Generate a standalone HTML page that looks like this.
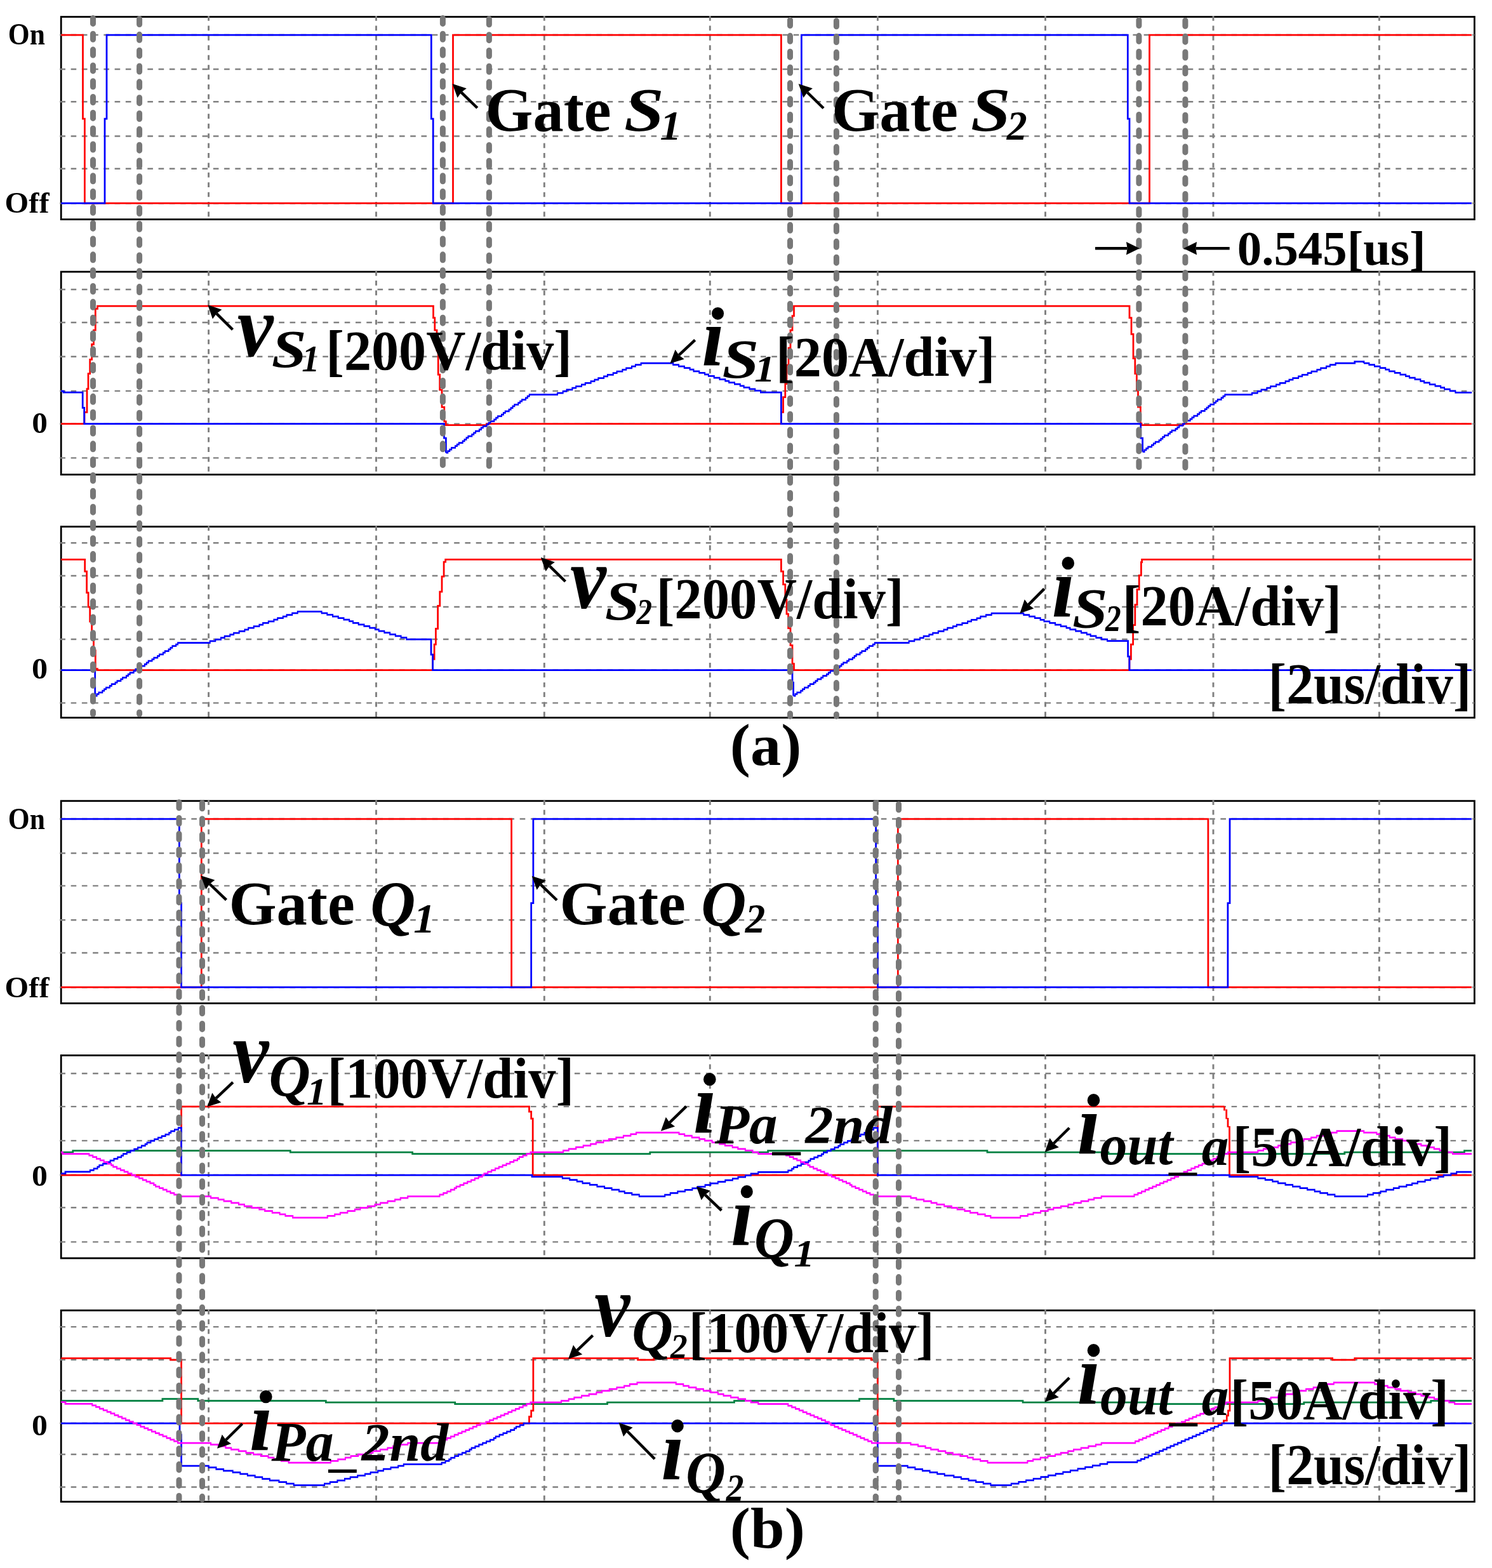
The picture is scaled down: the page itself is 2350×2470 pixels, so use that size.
<!DOCTYPE html>
<html lang="en">
<head>
<meta charset="utf-8">
<title>Simulated waveforms</title>
<style>
html,body{margin:0;padding:0;background:#fff;}
body{width:2350px;height:2470px;overflow:hidden;}
svg{display:block;}
text{font-family:"Liberation Serif","Times New Roman",serif;fill:#000;white-space:pre;}
.bd{font-weight:bold;font-style:normal;}
.bi{font-weight:bold;font-style:italic;}
.g{stroke:#808080;stroke-width:2.6;fill:none;}
.gh{stroke-dasharray:8.6 8.645;stroke-width:2.4;}
.gv{stroke-width:2.9;}
.b{stroke:#000;stroke-width:2.8;fill:none;}
.w{stroke-width:2.75;fill:none;stroke-linejoin:miter;stroke-linecap:butt;}
.t{stroke:#787878;stroke-width:9;stroke-linecap:round;stroke-dasharray:9 15.83;fill:none;}
</style>
</head>
<body>
<svg xmlns="http://www.w3.org/2000/svg" width="2350" height="2470" viewBox="0 0 2350 2470">
<rect width="2350" height="2470" fill="#fff"/>
<g id="borders">
<rect class="b" x="96.2" y="26.5" width="2226.2000000000003" height="319.1"/>
<rect class="b" x="96.2" y="428.1" width="2226.2000000000003" height="319.5"/>
<rect class="b" x="96.2" y="829.6" width="2226.2000000000003" height="300.9"/>
<rect class="b" x="96.2" y="1261.7" width="2226.2000000000003" height="318.79999999999995"/>
<rect class="b" x="96.2" y="1662.5" width="2226.2000000000003" height="319.5"/>
<rect class="b" x="96.2" y="2064.2" width="2226.2000000000003" height="301.4000000000001"/>
</g>
<g id="grid">
<line class="g gh" x1="94.4" y1="55" x2="2322.4" y2="55"/>
<line class="g gh" x1="94.4" y1="109" x2="2322.4" y2="109"/>
<line class="g gh" x1="94.4" y1="160.3" x2="2322.4" y2="160.3"/>
<line class="g gh" x1="94.4" y1="214.5" x2="2322.4" y2="214.5"/>
<line class="g gh" x1="94.4" y1="265.8" x2="2322.4" y2="265.8"/>
<line class="g gh" x1="94.4" y1="320.2" x2="2322.4" y2="320.2"/>
<line class="g gv" x1="328.6" y1="25.1" x2="328.6" y2="345.6" stroke-dasharray="7.7 7.72"/>
<line class="g gv" x1="592.5" y1="25.1" x2="592.5" y2="345.6" stroke-dasharray="7.7 7.72"/>
<line class="g gv" x1="857.3" y1="25.1" x2="857.3" y2="345.6" stroke-dasharray="7.7 7.72"/>
<line class="g gv" x1="1118.3" y1="25.1" x2="1118.3" y2="345.6" stroke-dasharray="7.7 7.72"/>
<line class="g gv" x1="1382.4" y1="25.1" x2="1382.4" y2="345.6" stroke-dasharray="7.7 7.72"/>
<line class="g gv" x1="1646.5" y1="25.1" x2="1646.5" y2="345.6" stroke-dasharray="7.7 7.72"/>
<line class="g gv" x1="1911.0" y1="25.1" x2="1911.0" y2="345.6" stroke-dasharray="7.7 7.72"/>
<line class="g gv" x1="2172.4" y1="25.1" x2="2172.4" y2="345.6" stroke-dasharray="7.7 7.72"/>
<line class="g gh" x1="94.4" y1="456" x2="2322.4" y2="456"/>
<line class="g gh" x1="94.4" y1="508" x2="2322.4" y2="508"/>
<line class="g gh" x1="94.4" y1="561.7" x2="2322.4" y2="561.7"/>
<line class="g gh" x1="94.4" y1="615.9" x2="2322.4" y2="615.9"/>
<line class="g gh" x1="94.4" y1="667.6" x2="2322.4" y2="667.6"/>
<line class="g gh" x1="94.4" y1="721.4" x2="2322.4" y2="721.4"/>
<line class="g gv" x1="328.6" y1="426.70000000000005" x2="328.6" y2="747.6" stroke-dasharray="7.7 7.72"/>
<line class="g gv" x1="592.5" y1="426.70000000000005" x2="592.5" y2="747.6" stroke-dasharray="7.7 7.72"/>
<line class="g gv" x1="857.3" y1="426.70000000000005" x2="857.3" y2="747.6" stroke-dasharray="7.7 7.72"/>
<line class="g gv" x1="1118.3" y1="426.70000000000005" x2="1118.3" y2="747.6" stroke-dasharray="7.7 7.72"/>
<line class="g gv" x1="1382.4" y1="426.70000000000005" x2="1382.4" y2="747.6" stroke-dasharray="7.7 7.72"/>
<line class="g gv" x1="1646.5" y1="426.70000000000005" x2="1646.5" y2="747.6" stroke-dasharray="7.7 7.72"/>
<line class="g gv" x1="1911.0" y1="426.70000000000005" x2="1911.0" y2="747.6" stroke-dasharray="7.7 7.72"/>
<line class="g gv" x1="2172.4" y1="426.70000000000005" x2="2172.4" y2="747.6" stroke-dasharray="7.7 7.72"/>
<line class="g gh" x1="94.4" y1="855.2" x2="2322.4" y2="855.2"/>
<line class="g gh" x1="94.4" y1="907" x2="2322.4" y2="907"/>
<line class="g gh" x1="94.4" y1="956" x2="2322.4" y2="956"/>
<line class="g gh" x1="94.4" y1="1007" x2="2322.4" y2="1007"/>
<line class="g gh" x1="94.4" y1="1055.7" x2="2322.4" y2="1055.7"/>
<line class="g gh" x1="94.4" y1="1107.4" x2="2322.4" y2="1107.4"/>
<line class="g gv" x1="328.6" y1="828.2" x2="328.6" y2="1130.5" stroke-dasharray="7.7 7.72"/>
<line class="g gv" x1="592.5" y1="828.2" x2="592.5" y2="1130.5" stroke-dasharray="7.7 7.72"/>
<line class="g gv" x1="857.3" y1="828.2" x2="857.3" y2="1130.5" stroke-dasharray="7.7 7.72"/>
<line class="g gv" x1="1118.3" y1="828.2" x2="1118.3" y2="1130.5" stroke-dasharray="7.7 7.72"/>
<line class="g gv" x1="1382.4" y1="828.2" x2="1382.4" y2="1130.5" stroke-dasharray="7.7 7.72"/>
<line class="g gv" x1="1646.5" y1="828.2" x2="1646.5" y2="1130.5" stroke-dasharray="7.7 7.72"/>
<line class="g gv" x1="1911.0" y1="828.2" x2="1911.0" y2="1130.5" stroke-dasharray="7.7 7.72"/>
<line class="g gv" x1="2172.4" y1="828.2" x2="2172.4" y2="1130.5" stroke-dasharray="7.7 7.72"/>
<line class="g gh" x1="94.4" y1="1290.0" x2="2322.4" y2="1290.0"/>
<line class="g gh" x1="94.4" y1="1344" x2="2322.4" y2="1344"/>
<line class="g gh" x1="94.4" y1="1395.4" x2="2322.4" y2="1395.4"/>
<line class="g gh" x1="94.4" y1="1449.2" x2="2322.4" y2="1449.2"/>
<line class="g gh" x1="94.4" y1="1501" x2="2322.4" y2="1501"/>
<line class="g gh" x1="94.4" y1="1555.2" x2="2322.4" y2="1555.2"/>
<line class="g gv" x1="328.6" y1="1260.3" x2="328.6" y2="1580.5" stroke-dasharray="7.7 7.72"/>
<line class="g gv" x1="592.5" y1="1260.3" x2="592.5" y2="1580.5" stroke-dasharray="7.7 7.72"/>
<line class="g gv" x1="857.3" y1="1260.3" x2="857.3" y2="1580.5" stroke-dasharray="7.7 7.72"/>
<line class="g gv" x1="1118.3" y1="1260.3" x2="1118.3" y2="1580.5" stroke-dasharray="7.7 7.72"/>
<line class="g gv" x1="1382.4" y1="1260.3" x2="1382.4" y2="1580.5" stroke-dasharray="7.7 7.72"/>
<line class="g gv" x1="1646.5" y1="1260.3" x2="1646.5" y2="1580.5" stroke-dasharray="7.7 7.72"/>
<line class="g gv" x1="1911.0" y1="1260.3" x2="1911.0" y2="1580.5" stroke-dasharray="7.7 7.72"/>
<line class="g gv" x1="2172.4" y1="1260.3" x2="2172.4" y2="1580.5" stroke-dasharray="7.7 7.72"/>
<line class="g gh" x1="94.4" y1="1691" x2="2322.4" y2="1691"/>
<line class="g gh" x1="94.4" y1="1743.1" x2="2322.4" y2="1743.1"/>
<line class="g gh" x1="94.4" y1="1796.9" x2="2322.4" y2="1796.9"/>
<line class="g gh" x1="94.4" y1="1850.9" x2="2322.4" y2="1850.9"/>
<line class="g gh" x1="94.4" y1="1902.2" x2="2322.4" y2="1902.2"/>
<line class="g gh" x1="94.4" y1="1956.4" x2="2322.4" y2="1956.4"/>
<line class="g gv" x1="328.6" y1="1661.1" x2="328.6" y2="1982" stroke-dasharray="7.7 7.72"/>
<line class="g gv" x1="592.5" y1="1661.1" x2="592.5" y2="1982" stroke-dasharray="7.7 7.72"/>
<line class="g gv" x1="857.3" y1="1661.1" x2="857.3" y2="1982" stroke-dasharray="7.7 7.72"/>
<line class="g gv" x1="1118.3" y1="1661.1" x2="1118.3" y2="1982" stroke-dasharray="7.7 7.72"/>
<line class="g gv" x1="1382.4" y1="1661.1" x2="1382.4" y2="1982" stroke-dasharray="7.7 7.72"/>
<line class="g gv" x1="1646.5" y1="1661.1" x2="1646.5" y2="1982" stroke-dasharray="7.7 7.72"/>
<line class="g gv" x1="1911.0" y1="1661.1" x2="1911.0" y2="1982" stroke-dasharray="7.7 7.72"/>
<line class="g gv" x1="2172.4" y1="1661.1" x2="2172.4" y2="1982" stroke-dasharray="7.7 7.72"/>
<line class="g gh" x1="94.4" y1="2090.1" x2="2322.4" y2="2090.1"/>
<line class="g gh" x1="94.4" y1="2142" x2="2322.4" y2="2142"/>
<line class="g gh" x1="94.4" y1="2190.6" x2="2322.4" y2="2190.6"/>
<line class="g gh" x1="94.4" y1="2241.9" x2="2322.4" y2="2241.9"/>
<line class="g gh" x1="94.4" y1="2291" x2="2322.4" y2="2291"/>
<line class="g gh" x1="94.4" y1="2342.5" x2="2322.4" y2="2342.5"/>
<line class="g gv" x1="328.6" y1="2062.7999999999997" x2="328.6" y2="2365.6" stroke-dasharray="7.7 7.72"/>
<line class="g gv" x1="592.5" y1="2062.7999999999997" x2="592.5" y2="2365.6" stroke-dasharray="7.7 7.72"/>
<line class="g gv" x1="857.3" y1="2062.7999999999997" x2="857.3" y2="2365.6" stroke-dasharray="7.7 7.72"/>
<line class="g gv" x1="1118.3" y1="2062.7999999999997" x2="1118.3" y2="2365.6" stroke-dasharray="7.7 7.72"/>
<line class="g gv" x1="1382.4" y1="2062.7999999999997" x2="1382.4" y2="2365.6" stroke-dasharray="7.7 7.72"/>
<line class="g gv" x1="1646.5" y1="2062.7999999999997" x2="1646.5" y2="2365.6" stroke-dasharray="7.7 7.72"/>
<line class="g gv" x1="1911.0" y1="2062.7999999999997" x2="1911.0" y2="2365.6" stroke-dasharray="7.7 7.72"/>
<line class="g gv" x1="2172.4" y1="2062.7999999999997" x2="2172.4" y2="2365.6" stroke-dasharray="7.7 7.72"/>
</g>
<g id="waves">
<path class="w" stroke="#ff0000" d="M96.2 55.0H130.5V187.0H133.4V320.0H713.5V55.0H1230.4V320.0H1810.5V55.0H2318.0"/>
<path class="w" stroke="#0000ff" d="M96.2 320.0H165.0V187.0H168.0V55.0H679.3V187.0H682.2V320.0H1262.4V55.0H1776.3V187.0H1779.0V320.0H2318.0"/>
<path class="w" stroke="#ff0000" d="M96.2 667.7H133.0V649.4H137.0V612.7H139.0V588.7H141.7V566.3H144.6V542.3H147.5V520.0H150.3V486.3H153.5V482.2H682.5V500.7H684.8V520.0H688.0V552.0H690.2V590.0H692.7V614.0H696.0V641.4H699.8V663.8H702.3V669.6H766.3V667.7H1230.4V649.4H1233.6V625.5H1236.8V604.7H1239.0V575.0H1242.0V548.0H1245.0V520.0H1248.0V497.5H1250.5V482.2H1779.0V500.7H1782.0V526.3H1785.0V564.7H1787.8V588.7H1790.4V614.0H1792.5V641.0H1796.4V667.0H1798.0V669.6H1863.5V667.7H2318.0"/>
<path class="w" stroke="#0000ff" d="M96.2 616.0H100.0V618.0H130.2V642.4H132.7V667.7H699.5V690.0H702.4V713.2M702.4 713.2H706.3M704.3 710.6H709.3M707.2 708.0H712.2M710.1 705.3H718.0M716.0 702.7H720.9M718.9 700.1H723.9M721.8 697.5H729.7M727.7 694.9H732.6M730.6 692.3H735.5M733.5 689.6H738.5M736.4 687.0H744.3M742.3 684.4H747.2M745.2 681.8H750.1M748.1 679.2H756.0M753.9 676.6H758.9M756.8 673.9H761.8M759.8 671.3H767.7M765.6 668.7H770.6M768.5 666.1H773.5M771.4 663.5H779.3M777.3 660.9H782.3M780.2 658.2H785.2M783.1 655.6H791.0M789.0 653.0H793.9M791.9 650.4H796.8M794.8 647.8H802.7M800.6 645.2H805.6M803.6 642.5H808.5M806.5 639.9H811.4M809.4 637.3H817.3M815.2 634.7H820.2M818.2 632.1H823.1M821.1 629.5H829.0M826.9 626.8H831.9M829.8 624.2H834.8M832.8 621.6H836.7H875.0M875.0 621.6H879.0M876.9 619.0H887.7M885.7 616.4H893.6M891.5 613.8H902.4M900.3 611.2H908.2M906.2 608.5H917.0M915.0 605.9H922.9M920.8 603.3H931.7M929.6 600.7H937.5M935.5 598.1H943.4M941.3 595.5H952.1M950.1 592.9H958.0M955.9 590.3H966.8M964.7 587.7H972.6M970.6 585.1H981.4M979.4 582.4H987.3M985.2 579.8H996.1M994.0 577.2H1001.9M999.9 574.6H1010.7M1008.6 572.0H1012.6H1057.3M1057.3 572.0H1061.3M1059.2 574.6H1070.1M1068.0 577.1H1078.9M1076.8 579.7H1087.7M1085.6 582.2H1093.5M1091.5 584.8H1102.3M1100.3 587.3H1111.1M1109.1 589.9H1117.0M1114.9 592.4H1125.8M1123.7 595.0H1134.6M1132.5 597.6H1143.4M1141.3 600.1H1149.2M1147.2 602.7H1158.0M1156.0 605.2H1166.8M1164.8 607.8H1172.7M1170.6 610.3H1181.5M1179.4 612.9H1190.3M1188.2 615.4H1199.1M1197.0 618.0H1201.0H1230.4V667.7H1796.7V690.0H1799.6V711.5M1799.6 711.5H1803.5M1801.5 708.9H1806.4M1804.4 706.4H1809.3M1807.2 703.8H1815.0M1813.0 701.2H1817.9M1815.9 698.7H1820.8M1818.8 696.1H1826.6M1824.6 693.5H1829.5M1827.4 691.0H1832.3M1830.3 688.4H1835.2M1833.2 685.8H1841.0M1839.0 683.2H1843.9M1841.9 680.7H1846.8M1844.7 678.1H1852.5M1850.5 675.5H1855.4M1853.4 673.0H1858.3M1856.3 670.4H1864.1M1862.1 667.8H1867.0M1864.9 665.3H1869.8M1867.8 662.7H1875.6M1873.6 660.1H1878.5M1876.5 657.6H1881.4M1879.4 655.0H1887.2M1885.1 652.4H1890.0M1888.0 649.9H1892.9M1890.9 647.3H1898.7M1896.7 644.7H1901.6M1899.6 642.1H1904.5M1902.4 639.6H1907.3M1905.3 637.0H1913.1M1911.1 634.4H1916.0M1914.0 631.9H1918.9M1916.9 629.3H1924.7M1922.6 626.7H1927.5M1925.5 624.2H1930.4M1928.4 621.6H1932.3H1969.0M1969.0 621.6H1973.0M1970.9 619.0H1981.7M1979.7 616.4H1987.6M1985.5 613.8H1996.4M1994.3 611.2H2002.2M2000.2 608.5H2011.0M2009.0 605.9H2016.9M2014.8 603.3H2025.7M2023.6 600.7H2031.5M2029.5 598.1H2037.4M2035.3 595.5H2046.1M2044.1 592.9H2052.0M2049.9 590.3H2060.8M2058.7 587.7H2066.6M2064.6 585.1H2075.4M2073.4 582.4H2081.3M2079.2 579.8H2090.1M2088.0 577.2H2095.9M2093.9 574.6H2104.7M2102.6 572.0H2106.6H2133.8V569.5H2148.0V572.0M2148.0 572.0H2157.4M2155.4 574.5H2162.0M2162.0 574.5H2165.9M2163.9 577.1H2174.6M2172.6 579.7H2183.3M2181.3 582.2H2189.1M2187.1 584.8H2197.8M2195.8 587.4H2206.5M2204.5 590.0H2215.2M2213.1 592.6H2221.0M2218.9 595.2H2229.7M2227.6 597.7H2238.4M2236.3 600.3H2244.2M2242.1 602.9H2252.8M2250.8 605.5H2261.5M2259.5 608.1H2270.2M2268.2 610.7H2276.0M2274.0 613.2H2284.7M2282.7 615.8H2293.4M2291.4 618.4H2295.3H2318.0"/>
<path class="w" stroke="#ff0000" d="M96.2 881.4H133.7V900.0H136.6V933.5H139.1V956.0H141.7V979.0H144.6V1002.0H147.5V1024.7H150.3V1053.5H153.5V1055.7H681.6V1038.4H684.1V1015.0H686.4V990.4H689.6V954.3H692.8V932.0H696.0V908.0H699.1V885.0H701.7V881.4H1230.4V900.0H1233.6V920.7H1236.8V944.7H1239.0V967.0H1241.6V989.5H1245.0V1016.7H1248.0V1045.5H1250.5V1055.7H1778.9V1038.4H1781.4V1015.0H1784.6V984.7H1787.8V952.7H1791.0V928.7H1794.2V906.3H1797.4V885.5H1798.6V881.4H2318.0"/>
<path class="w" stroke="#0000ff" d="M96.2 1055.7H149.7V1096.0M149.7 1096.0H153.6M151.6 1093.4H156.5M154.5 1090.8H162.3M160.3 1088.2H165.2M163.2 1085.6H168.1M166.1 1083.0H173.9M171.9 1080.3H176.8M174.8 1077.7H182.6M180.6 1075.1H185.5M183.5 1072.5H191.3M189.3 1069.9H194.2M192.2 1067.3H200.0M197.9 1064.7H202.9M200.8 1062.1H205.8M203.7 1059.5H211.6M209.5 1056.9H214.5M212.4 1054.2H220.3M218.2 1051.6H223.2M221.1 1049.0H229.0M226.9 1046.4H231.9M229.8 1043.8H234.8M232.7 1041.2H240.5M238.5 1038.6H243.4M241.4 1036.0H249.2M247.2 1033.4H252.1M250.1 1030.8H257.9M255.9 1028.2H260.8M258.8 1025.5H266.6M264.6 1022.9H269.5M267.5 1020.3H272.4M270.4 1017.7H278.2M276.2 1015.1H281.1M279.1 1012.5H283.0H327.8M327.8 1012.5H331.7M329.7 1009.9H340.3M338.3 1007.3H349.0M346.9 1004.7H354.7M352.7 1002.1H363.3M361.3 999.6H369.1M367.1 997.0H377.7M375.7 994.4H386.4M384.4 991.8H392.1M390.1 989.2H400.8M398.7 986.6H409.4M407.4 984.0H415.1M413.1 981.4H423.8M421.8 978.8H432.4M430.4 976.2H438.2M436.2 973.7H446.8M444.8 971.1H452.6M450.5 968.5H461.2M459.2 965.9H469.8M467.8 963.3H471.7H503.7M503.7 963.3H507.6M505.6 965.9H516.3M514.3 968.4H525.1M523.0 971.0H533.8M531.7 973.6H542.5M540.5 976.2H551.2M549.2 978.7H557.0M555.0 981.3H565.7M563.7 983.9H574.5M572.4 986.4H583.2M581.2 989.0H591.9M589.9 991.6H597.7M595.7 994.1H606.4M604.4 996.7H615.2M613.1 999.3H623.9M621.8 1001.9H632.6M630.6 1004.4H641.3M639.3 1007.0H643.2H679.0V1031.0H681.6V1055.7H1248.0V1075.0H1249.6V1096.0M1249.6 1096.0H1253.5M1251.5 1093.4H1256.4M1254.4 1090.8H1262.3M1260.2 1088.2H1265.2M1263.1 1085.6H1268.1M1266.1 1083.0H1273.9M1271.9 1080.3H1276.8M1274.8 1077.7H1282.7M1280.6 1075.1H1285.6M1283.5 1072.5H1288.5M1286.5 1069.9H1294.3M1292.3 1067.3H1297.2M1295.2 1064.7H1303.1M1301.0 1062.1H1306.0M1303.9 1059.5H1308.9M1306.8 1056.9H1314.7M1312.7 1054.2H1317.6M1315.6 1051.6H1323.5M1321.4 1049.0H1326.4M1324.3 1046.4H1329.3M1327.2 1043.8H1335.1M1333.1 1041.2H1338.0M1336.0 1038.6H1343.8M1341.8 1036.0H1346.8M1344.7 1033.4H1349.7M1347.6 1030.8H1355.5M1353.5 1028.2H1358.4M1356.4 1025.5H1364.2M1362.2 1022.9H1367.2M1365.1 1020.3H1370.1M1368.0 1017.7H1375.9M1373.9 1015.1H1378.8M1376.8 1012.5H1380.7H1428.7M1428.7 1012.5H1432.6M1430.6 1009.9H1441.3M1439.3 1007.3H1450.0M1447.9 1004.8H1455.7M1453.7 1002.2H1464.4M1462.4 999.6H1470.2M1468.2 997.0H1478.9M1476.8 994.4H1487.5M1485.5 991.8H1493.3M1491.3 989.2H1502.0M1500.0 986.7H1507.8M1505.8 984.1H1516.5M1514.4 981.5H1525.1M1523.1 978.9H1530.9M1528.9 976.3H1539.6M1537.6 973.8H1545.4M1543.3 971.2H1554.0M1552.0 968.6H1562.7M1560.7 966.0H1564.6H1609.4M1609.4 966.0H1613.3M1611.3 968.6H1622.1M1620.1 971.1H1630.9M1628.9 973.7H1639.7M1637.6 976.3H1645.5M1643.5 978.8H1654.3M1652.3 981.4H1663.1M1661.0 984.0H1671.9M1669.8 986.5H1680.6M1678.6 989.1H1686.5M1684.4 991.6H1695.3M1693.2 994.2H1704.0M1702.0 996.8H1712.8M1710.8 999.3H1718.7M1716.6 1001.9H1727.4M1725.4 1004.5H1736.2M1734.2 1007.0H1745.0M1743.0 1009.6H1746.9H1776.6V1034.0H1778.9V1055.7H2318.0"/>
<path class="w" stroke="#ff0000" d="M96.2 1555.2H317.3V1290.0H805.6V1555.2H1414.3V1290.0H1902.9V1555.2H2318.0"/>
<path class="w" stroke="#0000ff" d="M96.2 1290.0H282.4V1422.6H285.6V1555.2H836.7V1422.6H839.9V1290.0H1379.6V1422.6H1382.5V1555.2H1933.9V1422.6H1937.0V1290.0H2318.0"/>
<path class="w" stroke="#008040" d="M96.2 1815.0H114.8V1812.5H457.3V1815.0H649.6V1817.6H1023.8V1815.0H1209.6V1812.5H1555.0V1815.0H1746.0V1817.6H2117.8V1815.0H2306.5V1812.5H2318.0"/>
<path class="w" stroke="#ff0000" d="M96.2 1851.1H285.6V1743.1H833.5V1751.0H836.7V1762.0H839.2V1851.1H1382.3V1743.1H1928.5M1928.5 1743.1V1749.5M1931.7 1747.6V1754.0M1931.7 1754.0V1762.7M1934.0 1760.9V1767.0M1934.0 1767.0V1775.7M1936.5 1773.9V1780.0V1851.1H2318.0"/>
<path class="w" stroke="#0000ff" d="M96.2 1848.5H103.0V1845.9H139.0M139.0 1845.9H142.9M140.9 1843.3H148.7M146.7 1840.8H154.5M152.5 1838.2H157.4M155.4 1835.6H163.2M161.1 1833.1H169.0M166.9 1830.5H174.7M172.7 1828.0H180.5M178.5 1825.4H186.3M184.3 1822.8H192.1M190.1 1820.3H195.0M193.0 1817.7H200.8M198.8 1815.1H206.6M204.5 1812.6H212.4M210.3 1810.0H218.2M216.1 1807.5H223.9M221.9 1804.9H229.7M227.7 1802.3H232.6M230.6 1799.8H238.4M236.4 1797.2H244.2M242.2 1794.6H250.0M248.0 1792.1H255.8M253.7 1789.5H261.6M259.5 1787.0H267.3M265.3 1784.4H270.2M268.2 1781.8H276.0M274.0 1779.3H281.8M279.8 1776.7H283.7H285.6V1851.1H838.0V1853.5H880.0M880.0 1853.5H886.8M884.8 1856.1H898.3M896.3 1858.7H909.8M907.8 1861.2H918.5M916.5 1863.8H930.0M928.0 1866.4H941.5M939.5 1869.0H953.1M951.1 1871.6H964.6M962.6 1874.2H976.1M974.1 1876.8H984.8M982.8 1879.3H996.3M994.3 1881.9H1007.8M1005.8 1884.5H1012.6H1041.4M1041.4 1884.5H1048.2M1046.2 1882.0H1056.8M1054.8 1879.4H1068.4M1066.3 1876.9H1079.9M1077.9 1874.3H1091.4M1089.4 1871.8H1100.1M1098.1 1869.3H1111.6M1109.6 1866.7H1120.3M1118.2 1864.2H1131.8M1129.8 1861.6H1143.3M1141.3 1859.1H1154.9M1152.9 1856.6H1163.5M1161.5 1854.0H1175.1M1173.0 1851.5H1183.7M1181.7 1848.9H1195.2M1193.2 1846.4H1200.0H1238.4M1238.4 1846.4H1242.4M1240.3 1843.8H1248.2M1246.2 1841.2H1251.1M1249.1 1838.7H1257.0M1254.9 1836.1H1262.9M1260.8 1833.5H1268.7M1266.7 1830.9H1274.6M1272.5 1828.3H1277.5M1275.5 1825.7H1283.4M1281.3 1823.2H1289.2M1287.2 1820.6H1295.1M1293.0 1818.0H1298.0M1296.0 1815.4H1303.9M1301.8 1812.8H1309.7M1307.7 1810.3H1315.6M1313.5 1807.7H1321.4M1319.4 1805.1H1324.4M1322.3 1802.5H1330.2M1328.2 1799.9H1336.1M1334.0 1797.4H1341.9M1339.9 1794.8H1344.9M1342.8 1792.2H1350.7M1348.7 1789.6H1356.6M1354.5 1787.0H1362.5M1360.4 1784.4H1368.3M1366.3 1781.9H1371.2M1369.2 1779.3H1377.1M1375.0 1776.7H1379.0H1382.3V1851.1H1936.5V1853.5H1975.5M1975.5 1853.5H1982.3M1980.3 1856.1H1993.8M1991.8 1858.7H2005.4M2003.3 1861.2H2014.0M2012.0 1863.8H2025.6M2023.5 1866.4H2037.1M2035.1 1869.0H2048.6M2046.6 1871.6H2060.2M2058.1 1874.2H2071.7M2069.7 1876.8H2080.4M2078.3 1879.3H2091.9M2089.9 1881.9H2103.4M2101.4 1884.5H2108.2H2148.2M2148.2 1884.5H2155.1M2153.0 1881.9H2163.8M2161.8 1879.4H2175.5M2173.5 1876.8H2184.3M2182.2 1874.2H2195.9M2193.9 1871.7H2204.7M2202.6 1869.1H2216.4M2214.3 1866.5H2225.1M2223.1 1864.0H2233.9M2231.8 1861.4H2245.6M2243.5 1858.8H2254.3M2252.3 1856.3H2266.0M2263.9 1853.7H2274.7M2272.7 1851.1H2286.4M2284.4 1848.6H2295.2M2293.1 1846.0H2300.0H2318.0"/>
<path class="w" stroke="#ff00ff" d="M96.2 1815.0H98.5V1817.6H137.5M137.5 1817.6H141.4M139.4 1820.2H147.2M145.2 1822.7H153.1M151.0 1825.3H158.9M156.9 1827.9H164.7M162.7 1830.5H170.5M168.5 1833.0H176.3M174.3 1835.6H179.3M177.2 1838.2H185.1M183.0 1840.8H190.9M188.9 1843.3H196.7M194.7 1845.9H202.5M200.5 1848.5H208.4M206.3 1851.0H214.2M212.1 1853.6H220.0M218.0 1856.2H225.8M223.8 1858.8H231.6M229.6 1861.3H237.5M235.4 1863.9H243.3M241.2 1866.5H246.2M244.2 1869.1H252.0M250.0 1871.6H257.8M255.8 1874.2H263.6M261.6 1876.8H269.5M267.4 1879.4H275.3M273.3 1881.9H281.1M279.1 1884.5H283.0H326.2M326.2 1884.5H333.1M331.0 1887.1H344.8M342.8 1889.7H353.6M351.6 1892.2H365.4M363.3 1894.8H377.1M375.0 1897.4H385.9M383.8 1900.0H397.6M395.6 1902.5H409.4M407.3 1905.1H418.2M416.1 1907.7H429.9M427.8 1910.3H441.6M439.6 1912.8H450.4M448.4 1915.4H462.2M460.1 1918.0H467.0H510.0M510.0 1918.0H516.8M514.7 1915.4H528.3M526.2 1912.8H536.9M534.9 1910.3H548.4M546.4 1907.7H559.9M557.9 1905.1H568.5M566.5 1902.5H580.0M578.0 1900.0H591.5M589.5 1897.4H600.1M598.1 1894.8H611.6M609.6 1892.2H623.1M621.1 1889.7H631.8M629.7 1887.1H643.3M641.2 1884.5H648.0H689.6M689.6 1884.5H693.5M691.5 1881.9H699.4M697.3 1879.4H705.2M703.2 1876.8H711.0M709.0 1874.2H716.9M714.8 1871.6H719.8M717.7 1869.1H725.6M723.6 1866.5H731.4M729.4 1863.9H737.3M735.2 1861.3H743.1M741.1 1858.8H748.9M746.9 1856.2H754.8M752.7 1853.6H760.6M758.6 1851.0H763.5M761.5 1848.5H769.3M767.3 1845.9H775.2M773.1 1843.3H781.0M779.0 1840.7H786.8M784.8 1838.2H792.7M790.6 1835.6H798.5M796.5 1833.0H804.3M802.3 1830.4H810.2M808.1 1827.9H816.0M814.0 1825.3H818.9M816.9 1822.7H824.7M822.7 1820.1H830.6M828.5 1817.6H836.4M834.4 1815.0H838.3H881.4M881.4 1815.0H888.2M886.1 1812.4H896.8M894.8 1809.8H908.3M906.2 1807.2H919.8M917.7 1804.7H931.2M929.2 1802.1H939.9M937.8 1799.5H951.4M949.3 1796.9H960.0M958.0 1794.3H971.5M969.4 1791.8H983.0M980.9 1789.2H994.4M992.4 1786.6H1003.1M1001.0 1784.0H1007.8H1063.7M1063.7 1784.0H1070.5M1068.5 1786.6H1079.2M1077.2 1789.2H1090.8M1088.8 1791.8H1102.4M1100.4 1794.3H1111.1M1109.1 1796.9H1122.7M1120.7 1799.5H1134.3M1132.3 1802.1H1143.0M1141.0 1804.7H1154.6M1152.6 1807.3H1163.3M1161.3 1809.8H1174.9M1172.9 1812.4H1186.5M1184.5 1815.0H1195.2M1193.2 1817.6H1200.0H1235.2M1235.2 1817.6H1239.1M1237.1 1820.2H1244.8M1242.8 1822.7H1250.6M1248.6 1825.3H1256.3M1254.3 1827.9H1262.1M1260.1 1830.5H1267.8M1265.8 1833.0H1273.6M1271.6 1835.6H1276.5M1274.5 1838.2H1282.2M1280.2 1840.8H1288.0M1286.0 1843.3H1293.7M1291.7 1845.9H1299.5M1297.5 1848.5H1305.2M1303.2 1851.0H1311.0M1309.0 1853.6H1316.7M1314.7 1856.2H1322.5M1320.5 1858.8H1328.2M1326.2 1861.3H1334.0M1332.0 1863.9H1339.7M1337.7 1866.5H1342.6M1340.6 1869.1H1348.4M1346.4 1871.6H1354.1M1352.1 1874.2H1359.9M1357.9 1876.8H1365.6M1363.6 1879.4H1371.4M1369.4 1881.9H1377.1M1375.1 1884.5H1379.0H1428.7M1428.7 1884.5H1435.6M1433.5 1887.1H1444.4M1442.3 1889.7H1456.1M1454.0 1892.2H1467.8M1465.7 1894.8H1476.5M1474.5 1897.4H1488.2M1486.2 1900.0H1499.9M1497.9 1902.5H1508.7M1506.7 1905.1H1520.4M1518.4 1907.7H1529.2M1527.1 1910.3H1540.9M1538.8 1912.8H1552.6M1550.5 1915.4H1561.4M1559.3 1918.0H1566.2H1601.4M1601.4 1918.0H1608.2M1606.2 1915.4H1619.8M1617.8 1912.8H1628.5M1626.5 1910.3H1640.1M1638.1 1907.7H1651.7M1649.7 1905.1H1660.4M1658.3 1902.5H1672.0M1669.9 1900.0H1683.6M1681.5 1897.4H1692.2M1690.2 1894.8H1703.8M1701.8 1892.2H1715.4M1713.4 1889.7H1724.1M1722.1 1887.1H1735.7M1733.7 1884.5H1740.5H1783.6M1783.6 1884.5H1787.5M1785.5 1881.9H1793.3M1791.3 1879.4H1799.1M1797.1 1876.8H1804.9M1802.8 1874.2H1810.7M1808.6 1871.6H1816.5M1814.4 1869.1H1822.2M1820.2 1866.5H1828.0M1826.0 1863.9H1833.8M1831.8 1861.3H1839.6M1837.6 1858.8H1845.4M1843.4 1856.2H1851.2M1849.2 1853.6H1857.0M1854.9 1851.0H1859.9M1857.8 1848.5H1865.7M1863.6 1845.9H1871.4M1869.4 1843.3H1877.2M1875.2 1840.7H1883.0M1881.0 1838.2H1888.8M1886.8 1835.6H1894.6M1892.6 1833.0H1900.4M1898.4 1830.4H1906.2M1904.1 1827.9H1912.0M1909.9 1825.3H1917.8M1915.7 1822.7H1923.5M1921.5 1820.1H1929.3M1927.3 1817.6H1935.1M1933.1 1815.0H1937.0H1975.5M1975.5 1815.0H1982.3M1980.3 1812.4H1991.0M1988.9 1809.8H2002.5M2000.5 1807.3H2014.1M2012.1 1804.7H2022.8M2020.8 1802.1H2034.3M2032.3 1799.5H2045.9M2043.9 1797.0H2054.6M2052.6 1794.4H2066.1M2064.1 1791.8H2074.8M2072.8 1789.2H2086.4M2084.4 1786.7H2098.0M2095.9 1784.1H2106.6M2104.6 1781.5H2111.4H2133.8M2133.8 1781.5H2149.2M2147.2 1784.0H2162.6M2162.6 1784.0H2169.4M2167.4 1786.6H2178.2M2176.1 1789.2H2189.8M2187.8 1791.8H2198.6M2196.5 1794.3H2210.2M2208.2 1796.9H2219.0M2216.9 1799.5H2230.6M2228.6 1802.1H2239.4M2237.3 1804.7H2248.1M2246.1 1807.3H2259.8M2257.7 1809.8H2268.5M2266.5 1812.4H2280.2M2278.1 1815.0H2288.9M2286.9 1817.6H2293.7H2318.0"/>
<path class="w" stroke="#008040" d="M96.2 2206.5H255.9V2203.7H311.8V2206.5H513.3V2209.1H716.7V2211.7H956.6V2209.1H1156.5V2206.5H1353.5V2203.7H1407.9V2206.5H1611.0V2209.1H1813.0V2211.7H2053.8V2209.1H2253.7V2206.5H2318.0"/>
<path class="w" stroke="#ff0000" d="M96.2 2139.7H268.7V2142.0H285.6V2242.2H833.5V2231.5H836.7V2222.0H839.9V2139.7H1004.6V2142.0H1030.0V2139.7H1372.7V2142.0H1382.3V2242.2H1927.5V2237.9H1932.3V2229.9H1934.5V2222.0H1937.0V2139.7H2098.6V2142.0H2133.8V2139.7H2318.0"/>
<path class="w" stroke="#0000ff" d="M96.2 2242.2H283.0V2260.0H285.6V2309.2H323.0M323.0 2309.2H329.8M327.8 2311.7H341.5M339.4 2314.3H353.1M351.1 2316.8H367.7M365.6 2319.3H379.3M377.3 2321.9H390.9M388.9 2324.4H402.6M400.6 2326.9H414.2M412.2 2329.5H425.9M423.8 2332.0H440.4M438.4 2334.5H452.1M450.0 2337.1H463.7M461.7 2339.6H468.5H505.3M505.3 2339.6H512.1M510.1 2337.1H520.8M518.8 2334.5H532.4M530.4 2332.0H544.0M542.0 2329.4H552.7M550.7 2326.9H564.3M562.3 2324.4H575.9M573.9 2321.8H584.6M582.6 2319.3H596.2M594.2 2316.8H604.9M602.9 2314.2H616.5M614.5 2311.7H628.1M626.1 2309.1H636.8M634.8 2306.6H641.6H692.7M692.7 2306.6H696.7M694.6 2304.0H702.5M700.5 2301.4H708.4M706.3 2298.9H711.3M709.3 2296.3H717.2M715.2 2293.7H723.1M721.0 2291.1H728.9M726.9 2288.6H734.8M732.8 2286.0H740.7M738.6 2283.4H743.6M741.6 2280.8H749.5M747.4 2278.3H755.4M753.3 2275.7H761.2M759.2 2273.1H767.1M765.0 2270.5H773.0M770.9 2268.0H778.8M776.8 2265.4H781.8M779.7 2262.8H787.6M785.6 2260.2H793.5M791.5 2257.7H799.4M797.3 2255.1H805.2M803.2 2252.5H811.1M809.1 2249.9H814.1M812.0 2247.4H819.9M817.9 2244.8H825.8M823.7 2242.2H827.7H1379.1V2260.0H1382.3V2309.2H1423.9M1423.9 2309.2H1430.7M1428.7 2311.7H1442.3M1440.3 2314.3H1454.0M1451.9 2316.8H1465.6M1463.5 2319.3H1477.2M1475.2 2321.9H1488.8M1486.8 2324.4H1503.3M1501.3 2326.9H1514.9M1512.9 2329.5H1526.6M1524.5 2332.0H1538.2M1536.1 2334.5H1549.8M1547.8 2337.1H1561.4M1559.4 2339.6H1566.2H1587.0M1587.0 2339.6H1593.8M1591.8 2337.0H1605.5M1603.4 2334.4H1617.1M1615.1 2331.8H1628.8M1626.7 2329.3H1640.4M1638.4 2326.7H1652.1M1650.0 2324.1H1663.7M1661.7 2321.5H1675.3M1673.3 2318.9H1687.0M1684.9 2316.3H1698.6M1696.6 2313.7H1710.3M1708.2 2311.2H1721.9M1719.9 2308.6H1733.6M1731.5 2306.0H1745.2M1743.2 2303.4H1750.0H1788.4M1788.4 2303.4H1792.3M1790.3 2300.8H1798.1M1796.1 2298.3H1803.9M1801.9 2295.8H1809.7M1807.7 2293.2H1815.5M1813.5 2290.7H1821.3M1819.3 2288.1H1827.1M1825.1 2285.6H1832.9M1830.9 2283.0H1838.7M1836.7 2280.4H1844.5M1842.4 2277.9H1850.3M1848.2 2275.3H1856.1M1854.0 2272.8H1861.9M1859.8 2270.2H1867.7M1865.6 2267.7H1873.5M1871.4 2265.2H1879.2M1877.2 2262.6H1885.0M1883.0 2260.0H1890.8M1888.8 2257.5H1896.6M1894.6 2254.9H1902.4M1900.4 2252.4H1908.2M1906.2 2249.8H1914.0M1912.0 2247.3H1919.8M1917.8 2244.8H1925.6M1923.6 2242.2H1927.5H2318.0"/>
<path class="w" stroke="#ff00ff" d="M96.2 2208.6H103.0V2211.3H142.3M142.3 2211.3H146.3M144.2 2213.9H152.1M150.1 2216.4H158.0M155.9 2219.0H163.8M161.8 2221.6H169.7M167.7 2224.2H175.6M173.5 2226.7H181.4M179.4 2229.3H187.3M185.2 2231.9H193.2M191.1 2234.4H199.0M197.0 2237.0H204.9M202.8 2239.6H210.7M208.7 2242.2H216.6M214.6 2244.7H222.5M220.4 2247.3H228.3M226.3 2249.9H234.2M232.1 2252.4H240.1M238.0 2255.0H245.9M243.9 2257.6H251.8M249.7 2260.1H257.6M255.6 2262.7H263.5M261.5 2265.3H269.4M267.3 2267.9H275.2M273.2 2270.4H281.1M279.0 2273.0H283.0H326.2M326.2 2273.0H333.1M331.0 2275.6H344.7M342.7 2278.2H356.4M354.4 2280.8H365.2M363.1 2283.3H376.9M374.8 2285.9H388.5M386.5 2288.5H400.2M398.2 2291.1H411.9M409.8 2293.7H423.6M421.5 2296.2H432.3M430.3 2298.8H444.0M442.0 2301.4H455.7M453.6 2304.0H460.5H515.0M515.0 2304.0H521.8M519.8 2301.4H533.4M531.3 2298.8H544.9M542.9 2296.2H553.6M551.6 2293.7H565.2M563.1 2291.1H576.7M574.7 2288.5H588.3M586.3 2285.9H599.9M597.8 2283.3H611.4M609.4 2280.8H620.1M618.1 2278.2H631.7M629.6 2275.6H643.2M641.2 2273.0H648.0H689.6M689.6 2273.0H693.5M691.5 2270.4H699.4M697.3 2267.9H705.2M703.2 2265.3H711.0M709.0 2262.8H716.9M714.8 2260.2H722.7M720.7 2257.7H728.5M726.5 2255.1H734.4M732.3 2252.6H740.2M738.1 2250.0H746.0M744.0 2247.4H751.8M749.8 2244.9H757.7M755.6 2242.3H766.4M764.4 2239.8H772.3M770.2 2237.2H778.1M776.1 2234.7H783.9M781.9 2232.1H789.8M787.7 2229.5H795.6M793.5 2227.0H801.4M799.4 2224.4H807.2M805.2 2221.9H813.1M811.0 2219.3H818.9M816.9 2216.8H824.7M822.7 2214.2H830.6M828.5 2211.7H836.4M834.4 2209.1H838.3H878.2M878.2 2209.1H885.1M883.0 2206.5H896.7M894.7 2203.9H905.5M903.4 2201.3H917.1M915.1 2198.7H928.8M926.7 2196.1H940.4M938.4 2193.4H949.2M947.2 2190.8H960.9M958.8 2188.2H972.5M970.5 2185.6H984.2M982.1 2183.0H992.9M990.9 2180.4H1004.6M1002.5 2177.8H1009.4H1059.0M1059.0 2177.8H1065.8M1063.7 2180.4H1077.3M1075.3 2183.0H1085.9M1083.9 2185.6H1097.4M1095.4 2188.2H1108.9M1106.9 2190.8H1120.4M1118.4 2193.4H1131.9M1129.9 2196.1H1140.6M1138.6 2198.7H1152.1M1150.1 2201.3H1163.6M1161.6 2203.9H1175.1M1173.1 2206.5H1183.7M1181.7 2209.1H1195.3M1193.2 2211.7H1200.0H1238.4M1238.4 2211.7H1242.4M1240.3 2214.3H1248.2M1246.2 2216.8H1254.1M1252.0 2219.4H1259.9M1257.9 2221.9H1265.8M1263.7 2224.5H1271.6M1269.6 2227.0H1277.5M1275.4 2229.6H1283.3M1281.3 2232.1H1289.2M1287.1 2234.7H1295.1M1293.0 2237.2H1300.9M1298.9 2239.8H1306.8M1304.7 2242.3H1309.7M1307.6 2244.9H1315.5M1313.5 2247.5H1321.4M1319.3 2250.0H1327.3M1325.2 2252.6H1333.1M1331.1 2255.1H1339.0M1336.9 2257.7H1344.8M1342.8 2260.2H1350.7M1348.6 2262.8H1356.5M1354.5 2265.3H1362.4M1360.3 2267.9H1368.2M1366.2 2270.4H1374.1M1372.0 2273.0H1376.0H1428.7M1428.7 2273.0H1435.5M1433.5 2275.6H1447.0M1445.0 2278.2H1458.6M1456.5 2280.8H1467.2M1465.2 2283.3H1478.8M1476.7 2285.9H1490.3M1488.3 2288.5H1501.8M1499.8 2291.1H1513.4M1511.3 2293.7H1524.9M1522.9 2296.2H1533.6M1531.5 2298.8H1545.1M1543.1 2301.4H1556.6M1554.6 2304.0H1561.4H1612.6M1612.6 2304.0H1619.4M1617.4 2301.4H1628.2M1626.1 2298.8H1639.8M1637.7 2296.2H1651.4M1649.4 2293.7H1663.0M1661.0 2291.1H1671.8M1669.7 2288.5H1683.4M1681.3 2285.9H1692.1M1690.1 2283.3H1703.7M1701.7 2280.8H1715.4M1713.3 2278.2H1727.0M1724.9 2275.6H1735.7M1733.7 2273.0H1740.5H1785.2M1785.2 2273.0H1789.1M1787.1 2270.4H1795.0M1792.9 2267.9H1800.8M1798.8 2265.3H1806.6M1804.6 2262.8H1812.5M1810.4 2260.2H1818.3M1816.3 2257.7H1824.2M1822.1 2255.1H1830.0M1827.9 2252.6H1835.8M1833.8 2250.0H1841.7M1839.6 2247.4H1847.5M1845.4 2244.9H1853.3M1851.3 2242.3H1862.1M1860.0 2239.8H1867.9M1865.9 2237.2H1873.8M1871.7 2234.7H1879.6M1877.5 2232.1H1885.4M1883.4 2229.5H1891.3M1889.2 2227.0H1897.1M1895.0 2224.4H1902.9M1900.9 2221.9H1908.8M1906.7 2219.3H1914.6M1912.6 2216.8H1920.4M1918.4 2214.2H1926.3M1924.2 2211.7H1932.1M1930.1 2209.1H1934.0H1975.5M1975.5 2209.1H1982.3M1980.3 2206.5H1994.0M1992.0 2203.9H2002.7M2000.7 2201.3H2014.4M2012.4 2198.7H2026.0M2024.0 2196.1H2037.7M2035.7 2193.4H2046.4M2044.4 2190.8H2058.1M2056.1 2188.2H2069.7M2067.7 2185.6H2081.4M2079.4 2183.0H2090.1M2088.1 2180.4H2101.8M2099.8 2177.8H2106.6H2159.4M2159.4 2177.8H2166.3M2164.2 2180.4H2175.1M2173.0 2183.0H2186.8M2184.7 2185.6H2198.5M2196.4 2188.2H2207.3M2205.2 2190.8H2219.0M2216.9 2193.4H2230.7M2228.6 2196.1H2239.5M2237.4 2198.7H2251.2M2249.1 2201.3H2260.0M2257.9 2203.9H2271.7M2269.6 2206.5H2283.4M2281.3 2209.1H2292.2M2290.1 2211.7H2297.0H2318.0"/>
</g>
<g id="cursors">
<line class="t" x1="146.5" y1="28.4" x2="146.5" y2="1125"/>
<line class="t" x1="219.6" y1="29.5" x2="219.6" y2="1125"/>
<line class="t" x1="1244.5" y1="31.5" x2="1244.5" y2="1128.4"/>
<line class="t" x1="1317.4" y1="32.7" x2="1317.4" y2="1128.4"/>
<line class="t" x1="697.4" y1="28.4" x2="697.4" y2="735"/>
<line class="t" x1="770.4" y1="29.8" x2="770.4" y2="735"/>
<line class="t" x1="1793.9" y1="31.5" x2="1793.9" y2="737"/>
<line class="t" x1="1866.9" y1="32.3" x2="1866.9" y2="737"/>
<line class="t" x1="282" y1="1263.7" x2="282" y2="2362"/>
<line class="t" x1="318.5" y1="1264.8" x2="318.5" y2="2362"/>
<line class="t" x1="1379.2" y1="1264.7" x2="1379.2" y2="2362"/>
<line class="t" x1="1415.5" y1="1266.7" x2="1415.5" y2="2362"/>
</g>
<g id="arrows">
<line x1="751.8" y1="170.0" x2="726.4" y2="145.4" stroke="#000" stroke-width="4.4"/>
<polygon fill="#000" points="712.6,132.0 734.8,139.2 726.4,145.4 720.5,154.0"/>
<line x1="1297.1" y1="170.5" x2="1271.5" y2="145.5" stroke="#000" stroke-width="4.4"/>
<polygon fill="#000" points="1257.7,132.0 1279.9,139.3 1271.5,145.5 1265.5,154.0"/>
<line x1="366.5" y1="519.3" x2="341.0" y2="493.9" stroke="#000" stroke-width="4.4"/>
<polygon fill="#000" points="327.3,480.3 349.4,487.8 341.0,493.9 334.9,502.4"/>
<line x1="1094.7" y1="535.6" x2="1069.4" y2="559.4" stroke="#000" stroke-width="4.4"/>
<polygon fill="#000" points="1055.4,572.6 1063.6,550.8 1069.4,559.4 1077.7,565.7"/>
<line x1="1725.0" y1="391.2" x2="1775.6" y2="391.2" stroke="#000" stroke-width="4.4"/>
<polygon fill="#000" points="1794.9,391.2 1773.9,401.4 1775.6,391.2 1773.9,380.9"/>
<line x1="1936.7" y1="391.2" x2="1883.4" y2="391.2" stroke="#000" stroke-width="4.4"/>
<polygon fill="#000" points="1864.1,391.2 1885.1,380.9 1883.4,391.2 1885.1,401.4"/>
<line x1="890.5" y1="916.0" x2="865.6" y2="891.6" stroke="#000" stroke-width="4.4"/>
<polygon fill="#000" points="851.8,878.1 873.9,885.4 865.6,891.6 859.6,900.1"/>
<line x1="1644.7" y1="927.6" x2="1619.9" y2="952.6" stroke="#000" stroke-width="4.4"/>
<polygon fill="#000" points="1606.3,966.3 1613.8,944.2 1619.9,952.6 1628.3,958.6"/>
<line x1="356.5" y1="1417.6" x2="330.2" y2="1392.5" stroke="#000" stroke-width="4.4"/>
<polygon fill="#000" points="316.2,1379.2 338.4,1386.2 330.2,1392.5 324.3,1401.1"/>
<line x1="877.1" y1="1418.0" x2="851.6" y2="1393.3" stroke="#000" stroke-width="4.4"/>
<polygon fill="#000" points="837.7,1379.9 859.9,1387.1 851.6,1393.3 845.6,1401.8"/>
<line x1="366.9" y1="1704.8" x2="340.2" y2="1730.2" stroke="#000" stroke-width="4.4"/>
<polygon fill="#000" points="326.2,1743.5 334.3,1721.6 340.2,1730.2 348.4,1736.5"/>
<line x1="1080.9" y1="1742.8" x2="1054.7" y2="1768.3" stroke="#000" stroke-width="4.4"/>
<polygon fill="#000" points="1040.9,1781.7 1048.8,1759.7 1054.7,1768.3 1063.1,1774.4"/>
<line x1="1136.4" y1="1906.8" x2="1110.6" y2="1882.1" stroke="#000" stroke-width="4.4"/>
<polygon fill="#000" points="1096.7,1868.7 1118.9,1875.8 1110.6,1882.1 1104.7,1890.6"/>
<line x1="1684.3" y1="1776.8" x2="1659.5" y2="1801.2" stroke="#000" stroke-width="4.4"/>
<polygon fill="#000" points="1645.7,1814.7 1653.5,1792.7 1659.5,1801.2 1667.8,1807.3"/>
<line x1="381.6" y1="2242.8" x2="355.8" y2="2268.2" stroke="#000" stroke-width="4.4"/>
<polygon fill="#000" points="342.0,2281.7 349.8,2259.7 355.8,2268.2 364.1,2274.3"/>
<line x1="933.7" y1="2103.6" x2="908.9" y2="2127.3" stroke="#000" stroke-width="4.4"/>
<polygon fill="#000" points="895.0,2140.7 903.0,2118.8 908.9,2127.3 917.2,2133.6"/>
<line x1="1031.2" y1="2298.3" x2="988.2" y2="2254.7" stroke="#000" stroke-width="4.4"/>
<polygon fill="#000" points="974.6,2241.0 996.6,2248.7 988.2,2254.7 982.0,2263.1"/>
<line x1="1684.3" y1="2170.4" x2="1659.4" y2="2194.9" stroke="#000" stroke-width="4.4"/>
<polygon fill="#000" points="1645.7,2208.4 1653.4,2186.4 1659.4,2194.9 1667.8,2201.0"/>
</g>
<g id="labels">
<text class="bd" font-size="100" transform="matrix(0.4361 0 0 0.4922 12.73 69.61)">On</text>
<text class="bd" font-size="100" transform="matrix(0.4845 0 0 0.4629 7.60 334.64)">Off</text>
<text class="bd" font-size="100" transform="matrix(0.9644 0 0 0.9710 764.42 206.03)">Gate</text>
<text class="bi" font-size="100" transform="matrix(1.1296 0 0 0.9770 983.02 206.42)">S</text>
<text class="bi" font-size="100" transform="matrix(0.6747 0 0 0.6561 1039.38 220.00)">1</text>
<text class="bd" font-size="100" transform="matrix(0.9680 0 0 0.9770 1310.00 206.22)">Gate</text>
<text class="bi" font-size="100" transform="matrix(1.1276 0 0 0.9770 1529.03 206.42)">S</text>
<text class="bi" font-size="100" transform="matrix(0.6388 0 0 0.6596 1585.80 220.20)">2</text>
<text class="bd" font-size="100" transform="matrix(0.4941 0 0 0.4622 50.15 681.54)">0</text>
<text class="bi" font-size="100" transform="matrix(1.2768 0 0 1.3766 373.72 560.62)">v</text>
<text class="bi" font-size="100" transform="matrix(0.9869 0 0 0.8565 427.67 578.54)">S</text>
<text class="bi" font-size="100" transform="matrix(0.5627 0 0 0.5970 475.23 584.70)">1</text>
<text class="bd" font-size="100" transform="matrix(0.8616 0 0 0.8904 513.24 582.18)">[200V/div]</text>
<text class="bi" font-size="100" transform="matrix(1.2768 0 0 1.3237 1105.21 575.00)">i</text>
<text class="bi" font-size="100" transform="matrix(1.0412 0 0 0.8773 1137.48 594.92)">S</text>
<text class="bi" font-size="100" transform="matrix(0.6533 0 0 0.5985 1188.23 601.00)">1</text>
<text class="bd" font-size="100" transform="matrix(0.8636 0 0 0.8952 1222.02 591.82)">[20A/div]</text>
<text class="bd" font-size="100" transform="matrix(0.7685 0 0 0.7711 1948.82 416.59)">0.545[us]</text>
<text class="bd" font-size="100" transform="matrix(0.5035 0 0 0.4607 49.91 1068.54)">0</text>
<text class="bi" font-size="100" transform="matrix(1.2791 0 0 1.4085 897.92 958.39)">v</text>
<text class="bi" font-size="100" transform="matrix(0.9849 0 0 0.8699 952.78 975.83)">S</text>
<text class="bi" font-size="100" transform="matrix(0.4918 0 0 0.5781 1002.61 983.10)">2</text>
<text class="bd" font-size="100" transform="matrix(0.8676 0 0 0.9048 1033.39 974.08)">[200V/div]</text>
<text class="bi" font-size="100" transform="matrix(1.3010 0 0 1.3540 1656.55 970.80)">i</text>
<text class="bi" font-size="100" transform="matrix(1.0010 0 0 0.8862 1688.95 987.81)">S</text>
<text class="bi" font-size="100" transform="matrix(0.4939 0 0 0.5872 1741.12 993.90)">2</text>
<text class="bd" font-size="100" transform="matrix(0.8636 0 0 0.9012 1767.72 984.53)">[20A/div]</text>
<text class="bd" font-size="100" transform="matrix(0.8587 0 0 0.9024 1997.56 1107.62)">[2us/div]</text>
<text class="bd" font-size="100" transform="matrix(0.9648 0 0 0.9271 1149.80 1205.30)">(a)</text>
<text class="bd" font-size="100" transform="matrix(0.4361 0 0 0.4952 12.73 1305.70)">On</text>
<text class="bd" font-size="100" transform="matrix(0.4845 0 0 0.4657 7.60 1570.73)">Off</text>
<text class="bd" font-size="100" transform="matrix(0.9660 0 0 0.9829 360.41 1456.02)">Gate</text>
<text class="bi" font-size="100" transform="matrix(0.9848 0 0 1.0206 583.35 1458.52)">Q</text>
<text class="bi" font-size="100" transform="matrix(0.6827 0 0 0.6530 651.36 1469.20)">1</text>
<text class="bd" font-size="100" transform="matrix(0.9660 0 0 0.9829 881.51 1456.02)">Gate</text>
<text class="bi" font-size="100" transform="matrix(0.9864 0 0 1.0206 1104.35 1458.52)">Q</text>
<text class="bi" font-size="100" transform="matrix(0.6306 0 0 0.6506 1173.69 1469.20)">2</text>
<text class="bd" font-size="100" transform="matrix(0.4993 0 0 0.4622 49.98 1867.64)">0</text>
<text class="bi" font-size="100" transform="matrix(1.2859 0 0 1.3957 366.31 1705.00)">v</text>
<text class="bi" font-size="100" transform="matrix(0.9061 0 0 0.9297 423.53 1726.39)">Q</text>
<text class="bi" font-size="100" transform="matrix(0.6347 0 0 0.6061 483.07 1740.00)">1</text>
<text class="bd" font-size="100" transform="matrix(0.8639 0 0 0.9060 515.52 1728.67)">[100V/div]</text>
<text class="bi" font-size="100" transform="matrix(1.3131 0 0 1.3525 1091.72 1783.70)">i</text>
<text class="bi" font-size="100" transform="matrix(0.8910 0 0 0.8902 1125.70 1801.11)">Pa</text>
<text class="bi" font-size="100" transform="matrix(0.8816 0 0 0.7448 1222.51 1809.97)">_</text>
<text class="bi" font-size="100" transform="matrix(0.8785 0 0 0.8397 1268.50 1801.16)">2nd</text>
<text class="bi" font-size="100" transform="matrix(1.2727 0 0 1.3496 1151.02 1960.70)">i</text>
<text class="bi" font-size="100" transform="matrix(0.8682 0 0 0.9200 1188.06 1980.95)">Q</text>
<text class="bi" font-size="100" transform="matrix(0.6480 0 0 0.6061 1250.44 1994.80)">1</text>
<text class="bi" font-size="100" transform="matrix(1.3091 0 0 1.3511 1696.53 1816.70)">i</text>
<text class="bi" font-size="100" transform="matrix(0.8618 0 0 0.9026 1732.41 1833.57)">out</text>
<text class="bi" font-size="100" transform="matrix(0.8738 0 0 0.6759 1846.95 1843.34)">_</text>
<text class="bi" font-size="100" transform="matrix(0.8541 0 0 0.8646 1892.63 1834.54)">a</text>
<text class="bd" font-size="100" transform="matrix(0.8644 0 0 0.8904 1941.42 1836.18)">[50A/div]</text>
<text class="bd" font-size="100" transform="matrix(0.4993 0 0 0.4615 49.98 2260.54)">0</text>
<text class="bi" font-size="100" transform="matrix(1.3131 0 0 1.3525 392.82 2283.70)">i</text>
<text class="bi" font-size="100" transform="matrix(0.8828 0 0 0.8902 427.50 2301.11)">Pa</text>
<text class="bi" font-size="100" transform="matrix(0.8699 0 0 0.7448 523.52 2309.97)">_</text>
<text class="bi" font-size="100" transform="matrix(0.8785 0 0 0.8397 569.60 2301.16)">2nd</text>
<text class="bi" font-size="100" transform="matrix(1.2633 0 0 1.3957 936.34 2105.40)">v</text>
<text class="bi" font-size="100" transform="matrix(0.8970 0 0 0.9382 995.16 2127.35)">Q</text>
<text class="bi" font-size="100" transform="matrix(0.5347 0 0 0.5540 1055.97 2138.70)">2</text>
<text class="bd" font-size="100" transform="matrix(0.8602 0 0 0.9024 1084.65 2130.42)">[100V/div]</text>
<text class="bi" font-size="100" transform="matrix(1.3010 0 0 1.3554 1041.35 2330.20)">i</text>
<text class="bi" font-size="100" transform="matrix(0.8652 0 0 0.9333 1080.17 2350.73)">Q</text>
<text class="bi" font-size="100" transform="matrix(0.5551 0 0 0.6098 1143.69 2364.10)">2</text>
<text class="bi" font-size="100" transform="matrix(1.3091 0 0 1.3525 1696.53 2210.90)">i</text>
<text class="bi" font-size="100" transform="matrix(0.8566 0 0 0.9096 1733.12 2227.76)">out</text>
<text class="bi" font-size="100" transform="matrix(0.8738 0 0 0.7310 1847.65 2236.67)">_</text>
<text class="bi" font-size="100" transform="matrix(0.8541 0 0 0.8750 1892.63 2228.72)">a</text>
<text class="bd" font-size="100" transform="matrix(0.8610 0 0 0.8904 1937.54 2235.48)">[50A/div]</text>
<text class="bd" font-size="100" transform="matrix(0.8587 0 0 0.9024 1997.56 2338.32)">[2us/div]</text>
<text class="bd" font-size="100" transform="matrix(0.9656 0 0 0.9190 1149.80 2437.87)">(b)</text>
</g>
</svg>
</body>
</html>
